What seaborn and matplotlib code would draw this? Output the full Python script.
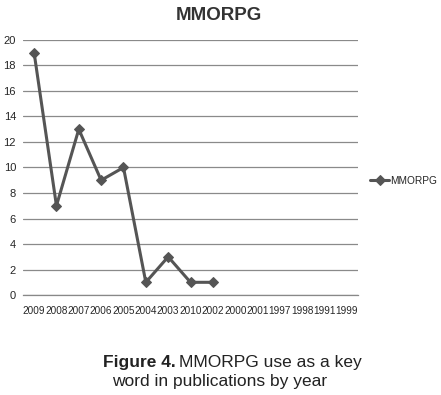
import numpy as np
import matplotlib
matplotlib.use("Agg")
from matplotlib import pyplot as plt
import seaborn as sns

# Publications per year that use MMORPG as a key word
years = ["2009", "2008", "2007", "2006", "2005", "2004", "2003", "2010",
         "2002", "2000", "2001", "1997", "1998", "1991", "1999"]
counts = [19, 7, 13, 9, 10, 1, 3, 1, 1]

sns.set_style("white")
plt.rcParams['font.family'] = ['Liberation Sans', 'DejaVu Sans']

fig = plt.figure(figsize=(4.41, 3.95), dpi=100)
ax = fig.add_axes([0.052, 0.253, 0.76, 0.646])

pos = np.arange(len(counts))
sns.lineplot(x=pos, y=counts, ax=ax, color="#555555", linewidth=2.2,
             marker="D", markersize=5, markeredgecolor="#555555",
             label="MMORPG")

ax.set_xlim(-0.5, len(years) - 0.5)
ax.set_ylim(0, 20)
ax.set_yticks(range(0, 21, 2))
ax.set_xticks(np.arange(len(years)))
ax.set_xticklabels(years, fontsize=7.2)
ax.set_xticks(np.arange(len(years) + 1) - 0.5, minor=True)
ax.tick_params(axis="x", which="major", length=0, pad=8)
ax.tick_params(axis="x", which="minor", length=4, color="#888888", direction="out")
ax.tick_params(axis="y", length=0, labelsize=8, pad=5)
ax.yaxis.grid(True, color="#8a8a8a", linewidth=0.9)
for s in ["top", "right", "left"]:
    ax.spines[s].set_visible(False)
ax.spines["bottom"].set_color("#888888")
ax.spines["bottom"].set_linewidth(0.9)

ax.legend(loc="center left", bbox_to_anchor=(0.84, 0.542),
          bbox_transform=fig.transFigure, frameon=False, fontsize=7.3,
          handlelength=1.8, handletextpad=0.15, borderpad=0, borderaxespad=0)

fig.text(0.497, 0.962, "MMORPG", ha="center", va="center",
         fontsize=13.5, fontweight="bold", color="#333333")

fig.text(0.398, 0.083, "Figure 4.", ha="right", va="center",
         fontsize=12.5, fontweight="bold", color="#222222")
fig.text(0.405, 0.083, "MMORPG use as a key", ha="left", va="center",
         fontsize=12.5, color="#222222")
fig.text(0.499, 0.033, "word in publications by year", ha="center", va="center",
         fontsize=12.5, color="#222222")

fig.savefig("out.png", dpi=100)
